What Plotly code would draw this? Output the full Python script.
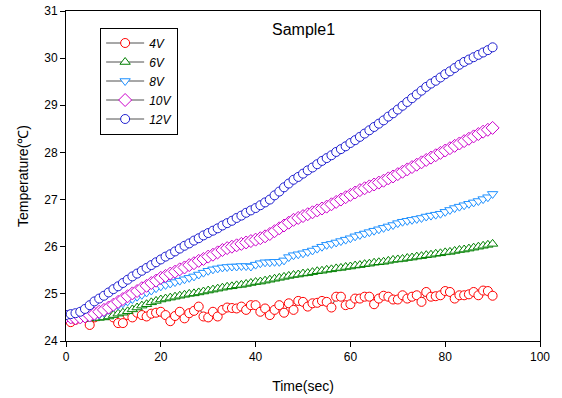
import plotly.graph_objects as go

time_sec = list(range(0, 91))

temp_4v = [24.55, 24.40, 24.45, 24.50, 24.55, 24.34, 24.50, 24.62, 24.60, 24.60,
           24.50, 24.38, 24.38, 24.55, 24.50, 24.60, 24.55, 24.52, 24.58, 24.60,
           24.62, 24.55, 24.42, 24.53, 24.62, 24.48, 24.59, 24.64, 24.73, 24.52,
           24.50, 24.62, 24.52, 24.66, 24.71, 24.70, 24.69, 24.73, 24.66, 24.76,
           24.76, 24.62, 24.69, 24.55, 24.66, 24.76, 24.60, 24.80, 24.66, 24.85,
           24.83, 24.73, 24.80, 24.81, 24.85, 24.83, 24.71, 24.94, 24.94, 24.76,
           24.78, 24.90, 24.90, 24.94, 24.94, 24.78, 24.90, 24.96, 24.94, 24.88,
           24.88, 24.97, 24.90, 24.94, 24.97, 24.83, 25.04, 24.94, 24.95, 24.97,
           25.06, 25.04, 24.90, 24.97, 24.97, 24.99, 25.04, 24.97, 25.07, 25.06,
           24.96]

temp_6v = [24.50, 24.48, 24.48, 24.47, 24.47, 24.48, 24.48, 24.49, 24.50, 24.52,
           24.55, 24.58, 24.60, 24.63, 24.67, 24.71, 24.75, 24.78, 24.82, 24.85,
           24.88, 24.90, 24.92, 24.94, 24.96, 24.98, 25.00, 25.01, 25.03, 25.05,
           25.07, 25.09, 25.11, 25.13, 25.15, 25.16, 25.18, 25.19, 25.21, 25.23,
           25.25, 25.26, 25.28, 25.30, 25.32, 25.34, 25.36, 25.38, 25.40, 25.41,
           25.43, 25.44, 25.46, 25.48, 25.49, 25.51, 25.52, 25.54, 25.55, 25.57,
           25.58, 25.60, 25.61, 25.63, 25.64, 25.66, 25.67, 25.68, 25.70, 25.72,
           25.73, 25.74, 25.76, 25.77, 25.79, 25.80, 25.82, 25.83, 25.85, 25.86,
           25.88, 25.89, 25.91, 25.93, 25.94, 25.96, 25.98, 26.00, 26.02, 26.04,
           26.06]

temp_8v = [24.50, 24.49, 24.48, 24.48, 24.49, 24.50, 24.53, 24.56, 24.60, 24.66,
           24.72, 24.76, 24.80, 24.84, 24.89, 24.94, 24.98, 25.03, 25.07, 25.12,
           25.16, 25.19, 25.22, 25.25, 25.28, 25.31, 25.34, 25.37, 25.41, 25.45,
           25.49, 25.52, 25.54, 25.56, 25.57, 25.58, 25.58, 25.59, 25.59, 25.58,
           25.62, 25.65, 25.67, 25.67, 25.68, 25.68, 25.71, 25.78, 25.82, 25.84,
           25.86, 25.89, 25.92, 25.96, 26.00, 26.04, 26.06, 26.09, 26.12, 26.15,
           26.18, 26.22, 26.25, 26.28, 26.31, 26.34, 26.37, 26.40, 26.43, 26.46,
           26.50, 26.53, 26.55, 26.57, 26.59, 26.61, 26.64, 26.66, 26.68, 26.70,
           26.74, 26.78, 26.82, 26.85, 26.88, 26.91, 26.94, 26.97, 27.01, 27.05,
           27.12]

temp_10v = [24.52, 24.50, 24.48, 24.50, 24.52, 24.54, 24.58, 24.62, 24.66, 24.71,
            24.77, 24.83, 24.89, 24.95, 25.01, 25.06, 25.12, 25.17, 25.23, 25.28,
            25.34, 25.38, 25.43, 25.47, 25.52, 25.56, 25.61, 25.65, 25.70, 25.74,
            25.79, 25.83, 25.88, 25.93, 25.97, 26.00, 26.03, 26.06, 26.09, 26.12,
            26.15, 26.18, 26.22, 26.27, 26.33, 26.39, 26.45, 26.51, 26.57, 26.61,
            26.65, 26.69, 26.73, 26.77, 26.81, 26.85, 26.90, 26.95, 27.00, 27.05,
            27.10, 27.15, 27.20, 27.24, 27.28, 27.32, 27.36, 27.40, 27.45, 27.49,
            27.54, 27.59, 27.64, 27.69, 27.74, 27.79, 27.84, 27.89, 27.94, 27.99,
            28.04, 28.09, 28.14, 28.19, 28.24, 28.29, 28.34, 28.39, 28.44, 28.48,
            28.52]

temp_12v = [24.55, 24.57, 24.59, 24.62, 24.68, 24.76, 24.84, 24.90, 24.96, 25.03,
            25.10, 25.16, 25.23, 25.30, 25.37, 25.43, 25.49, 25.55, 25.61, 25.67,
            25.73, 25.79, 25.84, 25.90, 25.96, 26.02, 26.07, 26.13, 26.18, 26.24,
            26.29, 26.34, 26.39, 26.45, 26.50, 26.55, 26.61, 26.66, 26.72, 26.77,
            26.82, 26.88, 26.94, 27.00, 27.09, 27.17, 27.26, 27.34, 27.42, 27.48,
            27.55, 27.62, 27.68, 27.75, 27.82, 27.88, 27.94, 28.01, 28.07, 28.13,
            28.20, 28.26, 28.33, 28.40, 28.47, 28.54, 28.61, 28.68, 28.76, 28.83,
            28.91, 28.99, 29.07, 29.15, 29.23, 29.31, 29.39, 29.46, 29.52, 29.59,
            29.66, 29.72, 29.79, 29.86, 29.92, 29.97, 30.02, 30.07, 30.12, 30.17,
            30.23]

series_names = ["4V", "6V", "8V", "10V", "12V"]
series_values = [temp_4v, temp_6v, temp_8v, temp_10v, temp_12v]
series_colors = ["#FF0000", "#008000", "#1E90FF", "#CC00CC", "#2020D0"]
series_symbols = ["circle", "triangle-up", "triangle-down", "diamond", "circle"]
series_sizes = [9, 9, 9, 10, 9]

x_ticks = [0, 20, 40, 60, 80, 100]
y_ticks = [24, 25, 26, 27, 28, 29, 30, 31]

fig = go.Figure()
for name, vals, col, sym, sz in zip(series_names, series_values, series_colors,
                                    series_symbols, series_sizes):
    fig.add_trace(go.Scatter(
        x=time_sec, y=vals, name=name, mode="lines+markers",
        line=dict(color="#505050", width=1),
        marker=dict(symbol=sym, size=sz, color="white",
                    line=dict(color=col, width=1)),
    ))

font_family = "Liberation Sans, Arial, sans-serif"

fig.update_layout(
    width=562, height=398,
    margin=dict(l=66, r=22, t=11, b=57),
    paper_bgcolor="white", plot_bgcolor="white",
    font=dict(family=font_family, size=12, color="black"),
    showlegend=True,
    legend=dict(
        x=0.072, y=0.95, xanchor="left", yanchor="top",
        bordercolor="black", borderwidth=1, bgcolor="white",
        font=dict(family=font_family, size=12, color="black", style="italic"),
        tracegroupgap=0, itemwidth=38,
    ),
    annotations=[dict(
        text="Sample1", x=50, y=30.6, xref="x", yref="y",
        showarrow=False, font=dict(family=font_family, size=16, color="black"),
    )],
)

fig.update_xaxes(
    range=[0, 100], tickvals=x_ticks, ticktext=[str(v) for v in x_ticks],
    showgrid=False, zeroline=False, automargin=False,
    showline=True, linecolor="black", linewidth=1, mirror=True,
    ticks="outside", ticklen=5, tickcolor="black", ticklabeloverflow="allow",
    title=dict(text="Time(sec)", font=dict(size=14), standoff=17),
)
fig.update_yaxes(
    range=[24, 31], tickvals=y_ticks, ticktext=[str(v) for v in y_ticks],
    showgrid=False, zeroline=False, automargin=False,
    showline=True, linecolor="black", linewidth=1, mirror=True,
    ticks="outside", ticklen=5, tickcolor="black", ticklabeloverflow="allow",
    title=dict(text="Temperature(℃)", font=dict(size=14), standoff=12),
)

# remove the browser's default 8px body margin so the figure fills the window
fig.write_html(
    "out.html",
    config={"displayModeBar": False},
    post_script="document.body.style.margin='0px';document.body.style.overflow='hidden';",
)
